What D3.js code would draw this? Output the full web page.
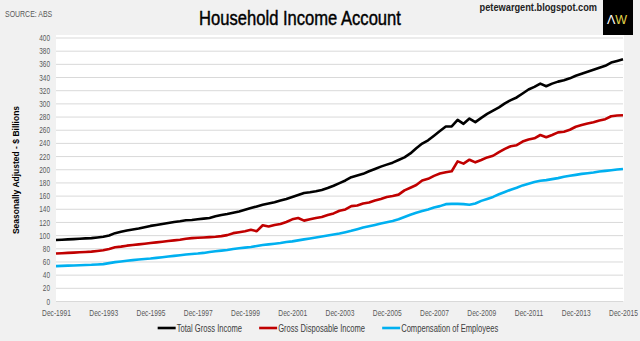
<!DOCTYPE html>
<html>
<head>
<meta charset="utf-8">
<script src="https://cdn.jsdelivr.net/npm/d3@7"></script>
<style>
  html, body { margin: 0; padding: 0; background: #f1f1f1; }
  svg { display: block; }
  text { font-family: "Liberation Sans", Arial, sans-serif; }
</style>
</head>
<body>
<svg id="chart" width="640" height="341"></svg>
<script>
// Household income account, quarterly, $ billions (seasonally adjusted), Dec-1991 .. Dec-2015
const totalGrossIncome = [
  92.5,
  93, 93.5, 94, 94.5,
  95, 95.5, 96.5, 97.5,
  99.5, 103, 105, 107,
  108.5, 110, 112, 114,
  115.5, 117, 118.5, 120,
  121, 122.5, 123, 124,
  125, 126, 128.5, 130.5,
  132, 134, 136, 138.5,
  141, 143.5, 146, 148,
  150, 152.5, 155, 158,
  161, 164, 165, 166.5,
  168.5, 171.5, 175, 179,
  183, 188, 190.5, 193,
  197, 200.5, 204, 207,
  210, 214, 218, 224,
  232, 239, 244, 251,
  258, 265, 265, 275,
  269, 277, 271.5, 278,
  284, 289, 294, 300,
  305, 309, 315, 321,
  325, 330, 326, 330,
  333, 335, 338, 342,
  345, 348, 351, 354,
  357, 362, 364.5, 367
];
const grossDisposableIncome = [
  72,
  72.5, 73, 73.5, 74,
  74.5, 75, 76, 77,
  79, 81.5, 82.5, 84,
  85, 86, 87, 88,
  89, 90, 91, 92,
  93, 94.5, 95.5, 96,
  96.5, 97, 97.5, 98.5,
  100, 103, 104.5, 106,
  108, 106, 115, 113,
  115.5, 117, 120, 124,
  126, 122, 124, 126,
  127.5, 130.5, 133, 137,
  139, 144, 145, 148,
  149.5, 152.5, 155, 158,
  159.5, 161.5, 168, 172,
  176, 183, 185.5, 190,
  193.5, 195.5, 197, 212,
  208.5, 214.5, 210.5, 214,
  218, 220.5, 226, 231,
  235, 236.5, 242, 245,
  247, 252, 248.5, 252,
  256, 257, 260, 264.5,
  267, 269.5, 271.5, 274,
  276, 280.5, 281.5, 282
];
const compensationOfEmployees = [
  53,
  53.3, 53.7, 54, 54.3,
  54.7, 55, 55.5, 56,
  57.5, 59, 60, 61,
  62, 63, 63.8, 64.5,
  65.5, 66.5, 67.5, 68.5,
  69.5, 70.5, 71.3, 72,
  73, 74.5, 75.5, 76.5,
  77.5, 79, 80, 81,
  82, 83.5, 85, 86,
  87, 88, 89.5, 90.5,
  92, 93.5, 95, 96.5,
  98, 99.5, 101, 102.5,
  104.5, 106.5, 109, 111.5,
  113.5, 115.5, 117.5, 119.5,
  121.5, 124, 127.5, 131,
  134, 136.5, 139, 142,
  144, 147, 147.5, 147.5,
  147, 146, 148, 152,
  155, 158, 162, 165.5,
  169, 172, 175.5, 178,
  180.5, 182.5, 183.5, 185,
  186.5, 188.5, 190, 191.5,
  193, 194, 195, 196.5,
  197.5, 198.5, 199.5, 200.5
];
const seriesNames = ["Total Gross Income", "Gross Disposable Income", "Compensation of Employees"];
const seriesColors = ["#000000", "#c00000", "#00b0f0"];
const xTickLabels = ["Dec-1991", "Dec-1993", "Dec-1995", "Dec-1997", "Dec-1999", "Dec-2001",
  "Dec-2003", "Dec-2005", "Dec-2007", "Dec-2009", "Dec-2011", "Dec-2013", "Dec-2015"];
const yTicks = d3.range(0, 401, 20);

// quarter categories: Dec-1991, Mar-1992, ... Dec-2015
const monthNames = ["Mar", "Jun", "Sep", "Dec"];
const quarters = ["Dec-1991"];
for (let y = 1992; y <= 2015; y++) monthNames.forEach(m => quarters.push(m + "-" + y));

// squeeze a text horizontally (around its anchor x) to get a condensed face
function condense(sel, factor) {
  sel.each(function () {
    const t = d3.select(this);
    const x0 = +(t.attr("x") || 0);
    const prev = t.attr("transform") || "";
    t.attr("x", 0).attr("transform", `${prev} translate(${x0},0) scale(${factor},1)`);
  });
  return sel;
}

const svg = d3.select("#chart");
const plot = { left: 56, right: 623, top: 37.5, bottom: 301 };

const x = d3.scalePoint().domain(quarters).range([plot.left, plot.right]);
const y = d3.scaleLinear().domain([0, 400]).range([plot.bottom, plot.top]);

// plot background
svg.append("rect")
  .attr("x", plot.left).attr("y", 35)
  .attr("width", plot.right - plot.left + 1).attr("height", plot.bottom - 35)
  .attr("fill", "#ffffff");

// horizontal gridlines + y labels
const yAxis = d3.axisLeft(y).tickValues(yTicks).tickSize(-(plot.right - plot.left)).tickPadding(6);
const gy = svg.append("g").attr("transform", `translate(${plot.left},0)`).call(yAxis);
gy.select(".domain").remove();
gy.selectAll(".tick line").attr("stroke", "#d9d9d9").attr("stroke-width", 1);
gy.selectAll(".tick text")
  .attr("font-size", 9.5).attr("fill", "#595959")
  .call(condense, 0.68);

// x axis labels
const xAxis = d3.axisBottom(x).tickValues(xTickLabels).tickSize(0).tickPadding(8);
const gx = svg.append("g").attr("transform", `translate(0,${plot.bottom})`).call(xAxis);
gx.select(".domain").remove();
gx.selectAll(".tick text")
  .attr("font-size", 9.5).attr("fill", "#595959")
  .call(condense, 0.7);

// series lines
const seriesData = [totalGrossIncome, grossDisposableIncome, compensationOfEmployees];
const line = d3.line().x((d, i) => x(quarters[i])).y(d => y(d));
seriesData.forEach((vals, k) => {
  svg.append("path")
    .datum(vals)
    .attr("d", line)
    .attr("fill", "none")
    .attr("stroke", seriesColors[k])
    .attr("stroke-width", 2.6)
    .attr("stroke-linejoin", "round");
});

// titles and credits
svg.append("text")
  .attr("x", 300).attr("y", 25).attr("text-anchor", "middle")
  .attr("font-size", 21).attr("fill", "#000")
  .attr("stroke", "#000").attr("stroke-width", 0.45)
  .text("Household Income Account")
  .call(condense, 0.79);

svg.append("text")
  .attr("x", 5).attr("y", 17)
  .attr("font-size", 8.5).attr("fill", "#595959")
  .text("SOURCE: ABS")
  .call(condense, 0.82);

svg.append("text")
  .attr("x", 597).attr("y", 11).attr("text-anchor", "end")
  .attr("font-weight", "bold")
  .attr("font-size", 10.5).attr("fill", "#222")
  .text("petewargent.blogspot.com")
  .call(condense, 0.88);

// AW badge
svg.append("rect").attr("x", 603).attr("y", 0).attr("width", 30).attr("height", 35).attr("fill", "#000");
const badge = svg.append("text").attr("x", 617).attr("y", 24).attr("text-anchor", "middle")
  .attr("font-size", 12.5);
badge.append("tspan").attr("fill", "#ffffff").text("Λ");
badge.append("tspan").attr("fill", "#e2d44a").text("W");

// y axis title
svg.append("text")
  .attr("transform", "translate(19,170) rotate(-90)")
  .attr("text-anchor", "middle")
  .attr("font-weight", "bold")
  .attr("font-size", 8.5).attr("fill", "#000")
  .text("Seasonally Adjusted - $ Billions");

// legend, centred under the plot
const legendScale = 0.76;
const legend = svg.append("g");
let cx = 0;
seriesNames.forEach((name, k) => {
  const g = legend.append("g").attr("transform", `translate(${cx},0)`);
  g.append("line").attr("x1", 0).attr("x2", 18).attr("y1", 0).attr("y2", 0)
    .attr("stroke", seriesColors[k]).attr("stroke-width", 2.6);
  const t = g.append("text")
    .attr("x", 19).attr("y", 3.5)
    .attr("font-size", 10).attr("fill", "#404040")
    .text(name);
  const w = t.node().getComputedTextLength() * legendScale;
  t.call(condense, legendScale);
  cx += 19 + w + 17;
});
const legendWidth = cx - 17;
legend.attr("transform", `translate(${328 - legendWidth / 2},328)`);
</script>
</body>
</html>
